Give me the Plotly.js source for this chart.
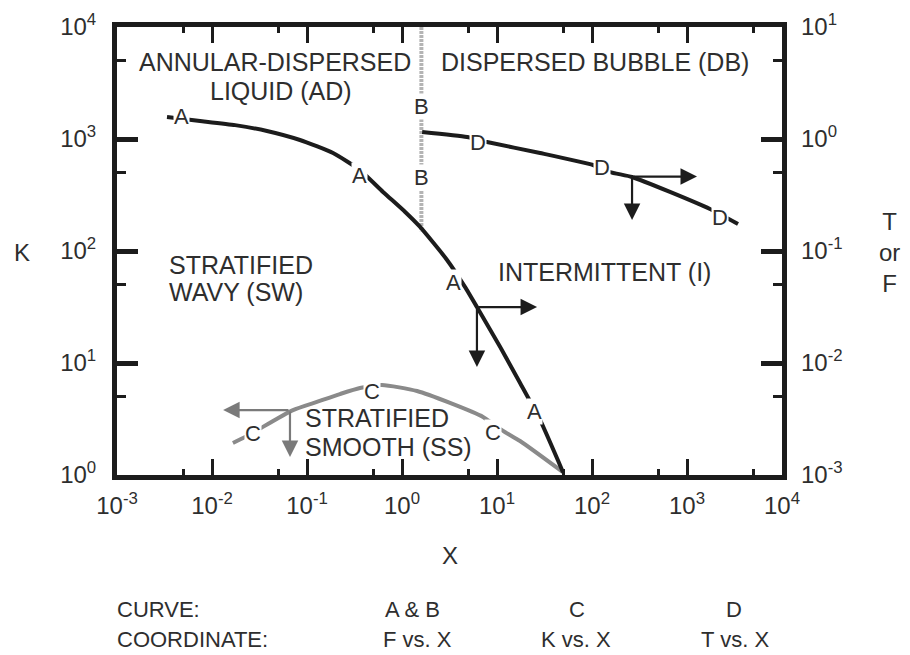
<!DOCTYPE html>
<html>
<head>
<meta charset="utf-8">
<script src="https://cdn.plot.ly/plotly-3.0.1.min.js"></script>
<style>
html,body{margin:0;padding:0;background:#fff;}
#chart{width:910px;height:655px;}
</style>
</head>
<body>
<div id="chart"></div>
<script>
// ---------- data ----------
// Curve A : F vs X (right axis)
const A_X = [0.00336, 0.00748, 0.0175, 0.0379, 0.0843, 0.188, 0.361, 0.631, 1.08, 1.55, 2.98, 4.60, 6.15, 10.8, 17.5, 28.4, 49.5];
const A_F = [1.57, 1.45, 1.33, 1.18, 0.98, 0.75, 0.528, 0.337, 0.223, 0.164, 0.0832, 0.0478, 0.0316, 0.0139, 0.00662, 0.00310, 0.00106];
// Curve B : F vs X (right axis), vertical line
const B_X = [1.6, 1.6];
const B_F = [10, 0.15];
// Curve C : K vs X (left axis)
const C_X = [0.0166, 0.0270, 0.0344, 0.0713, 0.127, 0.222, 0.361, 0.615, 1.44, 3.20, 7.13, 9.08, 12.1, 17.5, 49.5];
const C_K = [1.93, 2.37, 2.69, 3.80, 4.49, 5.28, 5.98, 6.37, 5.62, 4.40, 3.30, 2.85, 2.42, 2.01, 1.06];
// Curve D : T vs X (right axis)
const D_X = [1.63, 4.83, 7.85, 28.4, 102.5, 154.5, 263.6, 662, 1746, 3444];
const D_T = [1.155, 1.042, 0.940, 0.750, 0.586, 0.507, 0.458, 0.337, 0.237, 0.174];

// curve letter labels
const A_LBL_X = [0.00472, 0.361, 3.52, 25.1];
const A_LBL_F = [1.60, 0.47, 0.0528, 0.00372];
const B_LBL_X = [1.6, 1.6];
const B_LBL_F = [1.97, 0.449];
const C_LBL_X = [0.027, 0.483, 9.08];
const C_LBL_K = [2.37, 5.60, 2.42];
const D_LBL_X = [6.3, 127, 2220];
const D_LBL_T = [0.94, 0.551, 0.201];

// arrows: [baseX, baseY, tipX, tipY]
const A_ARROWS = [[6.15, 0.0316, 26.4, 0.0316], [6.15, 0.0316, 6.15, 0.0092]];
const D_ARROWS = [[264, 0.462, 1274, 0.462], [264, 0.462, 264, 0.189]];
const C_ARROWS = [[0.0662, 3.80, 0.0131, 3.80], [0.0662, 3.80, 0.0662, 1.45]];

// axes ticks
const X_TICKS = [1e-3, 1e-2, 1e-1, 1, 1e1, 1e2, 1e3, 1e4];
const X_EXP = ['-3', '-2', '-1', '0', '1', '2', '3', '4'];
const X_MINOR = [5e-3, 5e-2, 5e-1, 5, 50, 500, 5000];
const K_TICKS = [1, 10, 100, 1000, 10000];
const K_EXP = ['0', '1', '2', '3', '4'];
const K_MINOR = [5, 50, 500, 5000];
const TF_TICKS = [1e-3, 1e-2, 1e-1, 1, 10];
const TF_EXP = ['-3', '-2', '-1', '0', '1'];

// region labels (X, K)
const REGION_TEXT = ['ANNULAR-DISPERSED', 'LIQUID (AD)', 'DISPERSED BUBBLE (DB)', 'STRATIFIED', 'WAVY (SW)', 'INTERMITTENT (I)', 'STRATIFIED', 'SMOOTH (SS)'];
const REGION_X = [0.046, 0.053, 108, 0.00336, 0.00336, 137, 0.0908, 0.0908];
const REGION_K = [4870, 2690, 4870, 75, 43, 65, 3.23, 1.78];
const REGION_ANCHOR = ['center', 'center', 'center', 'left', 'left', 'center', 'left', 'left'];

// ---------- build ----------
const FONT = 'Liberation Sans, Arial, Helvetica, sans-serif';
const TXT = '#2e2e2e';
const INK = '#1c1c1c';
const L = Math.log10;
const pow = e => '10<sup>' + e + '</sup>';

const traces = [
  {x: C_X, y: C_K, xaxis: 'x', yaxis: 'y', mode: 'lines', line: {color: '#8a8a8a', width: 4, shape: 'spline', smoothing: 0.6}, hoverinfo: 'skip', name: 'C'},
  {x: B_X, y: B_F, xaxis: 'x', yaxis: 'y2', mode: 'lines', line: {color: '#b4b4b4', width: 4, dash: '3px,1px'}, hoverinfo: 'skip', name: 'B'},
  {x: A_X, y: A_F, xaxis: 'x', yaxis: 'y2', mode: 'lines', line: {color: INK, width: 4, shape: 'spline', smoothing: 0.5}, hoverinfo: 'skip', name: 'A'},
  {x: D_X, y: D_T, xaxis: 'x', yaxis: 'y2', mode: 'lines', line: {color: INK, width: 4, shape: 'spline', smoothing: 0.5}, hoverinfo: 'skip', name: 'D'}
];

const ann = [];
function letter(txt, xs, ys, yref) {
  xs.forEach((x, i) => ann.push({x: L(x), y: L(ys[i]), xref: 'x', yref: yref, text: txt, showarrow: false,
    font: {family: FONT, size: 22, color: TXT}, bgcolor: '#ffffff', borderpad: 0}));
}
function arrows(list, yref, color) {
  list.forEach(a => ann.push({x: L(a[2]), y: L(a[3]), ax: L(a[0]), ay: L(a[1]), xref: 'x', yref: yref, axref: 'x', ayref: yref,
    text: '', showarrow: true, arrowhead: 2, arrowsize: 1.5, arrowwidth: 2.2, arrowcolor: color, standoff: 0, startstandoff: 0}));
}
arrows(A_ARROWS, 'y2', INK);
arrows(D_ARROWS, 'y2', INK);
arrows(C_ARROWS, 'y', '#7a7a7a');
letter('A', A_LBL_X, A_LBL_F, 'y2');
letter('B', B_LBL_X, B_LBL_F, 'y2');
letter('C', C_LBL_X, C_LBL_K, 'y');
letter('D', D_LBL_X, D_LBL_T, 'y2');

REGION_TEXT.forEach((t, i) => ann.push({x: L(REGION_X[i]), y: L(REGION_K[i]), xref: 'x', yref: 'y', text: t, showarrow: false,
  xanchor: REGION_ANCHOR[i], font: {family: FONT, size: 25, color: TXT}}));

// axis titles and bottom key (paper coordinates)
const paperText = (t, x, y, xa, size) => ann.push({x: x, y: y, xref: 'paper', yref: 'paper', text: t, showarrow: false,
  xanchor: xa, yanchor: 'middle', font: {family: FONT, size: size, color: TXT}});
paperText('K', -0.143, 0.496, 'center', 24);
paperText('X', 0.5, -0.179, 'center', 24);
paperText('T<br>or<br>F', 1.162, 0.497, 'center', 24);
paperText('CURVE:', -0.003, -0.301, 'left', 22);
paperText('COORDINATE:', -0.003, -0.368, 'left', 22);
paperText('A & B', 0.444, -0.301, 'center', 22);
paperText('F vs. X', 0.452, -0.368, 'center', 22);
paperText('C', 0.692, -0.301, 'center', 22);
paperText('K vs. X', 0.690, -0.368, 'center', 22);
paperText('D', 0.928, -0.301, 'center', 22);
paperText('T vs. X', 0.930, -0.368, 'center', 22);

const layout = {
  width: 910, height: 655,
  margin: {l: 117, r: 128, t: 27, b: 180, pad: 0},
  paper_bgcolor: '#ffffff', plot_bgcolor: '#ffffff',
  showlegend: false,
  font: {family: FONT, color: TXT},
  xaxis: {
    type: 'log', range: [-3, 4], showgrid: false, zeroline: false,
    showline: true, linewidth: 5, linecolor: INK, mirror: 'ticks',
    ticks: 'inside', ticklen: 16, tickwidth: 3, tickcolor: INK,
    tickvals: X_TICKS, ticktext: X_EXP.map(pow),
    tickfont: {family: FONT, size: 24, color: TXT}, ticklabelstandoff: 5,
    minor: {tickvals: X_MINOR, ticks: 'inside', ticklen: 6, tickwidth: 3, tickcolor: INK, showgrid: false}
  },
  yaxis: {
    type: 'log', range: [0, 4], showgrid: false, zeroline: false,
    showline: true, linewidth: 5, linecolor: INK, mirror: 'ticks',
    ticks: 'inside', ticklen: 21, tickwidth: 5, tickcolor: INK,
    tickvals: K_TICKS, ticktext: K_EXP.map(pow),
    tickfont: {family: FONT, size: 24, color: TXT}, ticklabelstandoff: 11,
    minor: {tickvals: K_MINOR, ticks: 'inside', ticklen: 9, tickwidth: 3, tickcolor: INK, showgrid: false}
  },
  yaxis2: {
    type: 'log', range: [-3, 1], overlaying: 'y', side: 'right', showgrid: false, zeroline: false,
    showline: false, ticks: '', tickvals: TF_TICKS, ticktext: TF_EXP.map(pow),
    tickfont: {family: FONT, size: 24, color: TXT}, ticklabelstandoff: 18
  },
  annotations: ann
};

Plotly.newPlot('chart', traces, layout, {staticPlot: true, displayModeBar: false});
</script>
</body>
</html>
